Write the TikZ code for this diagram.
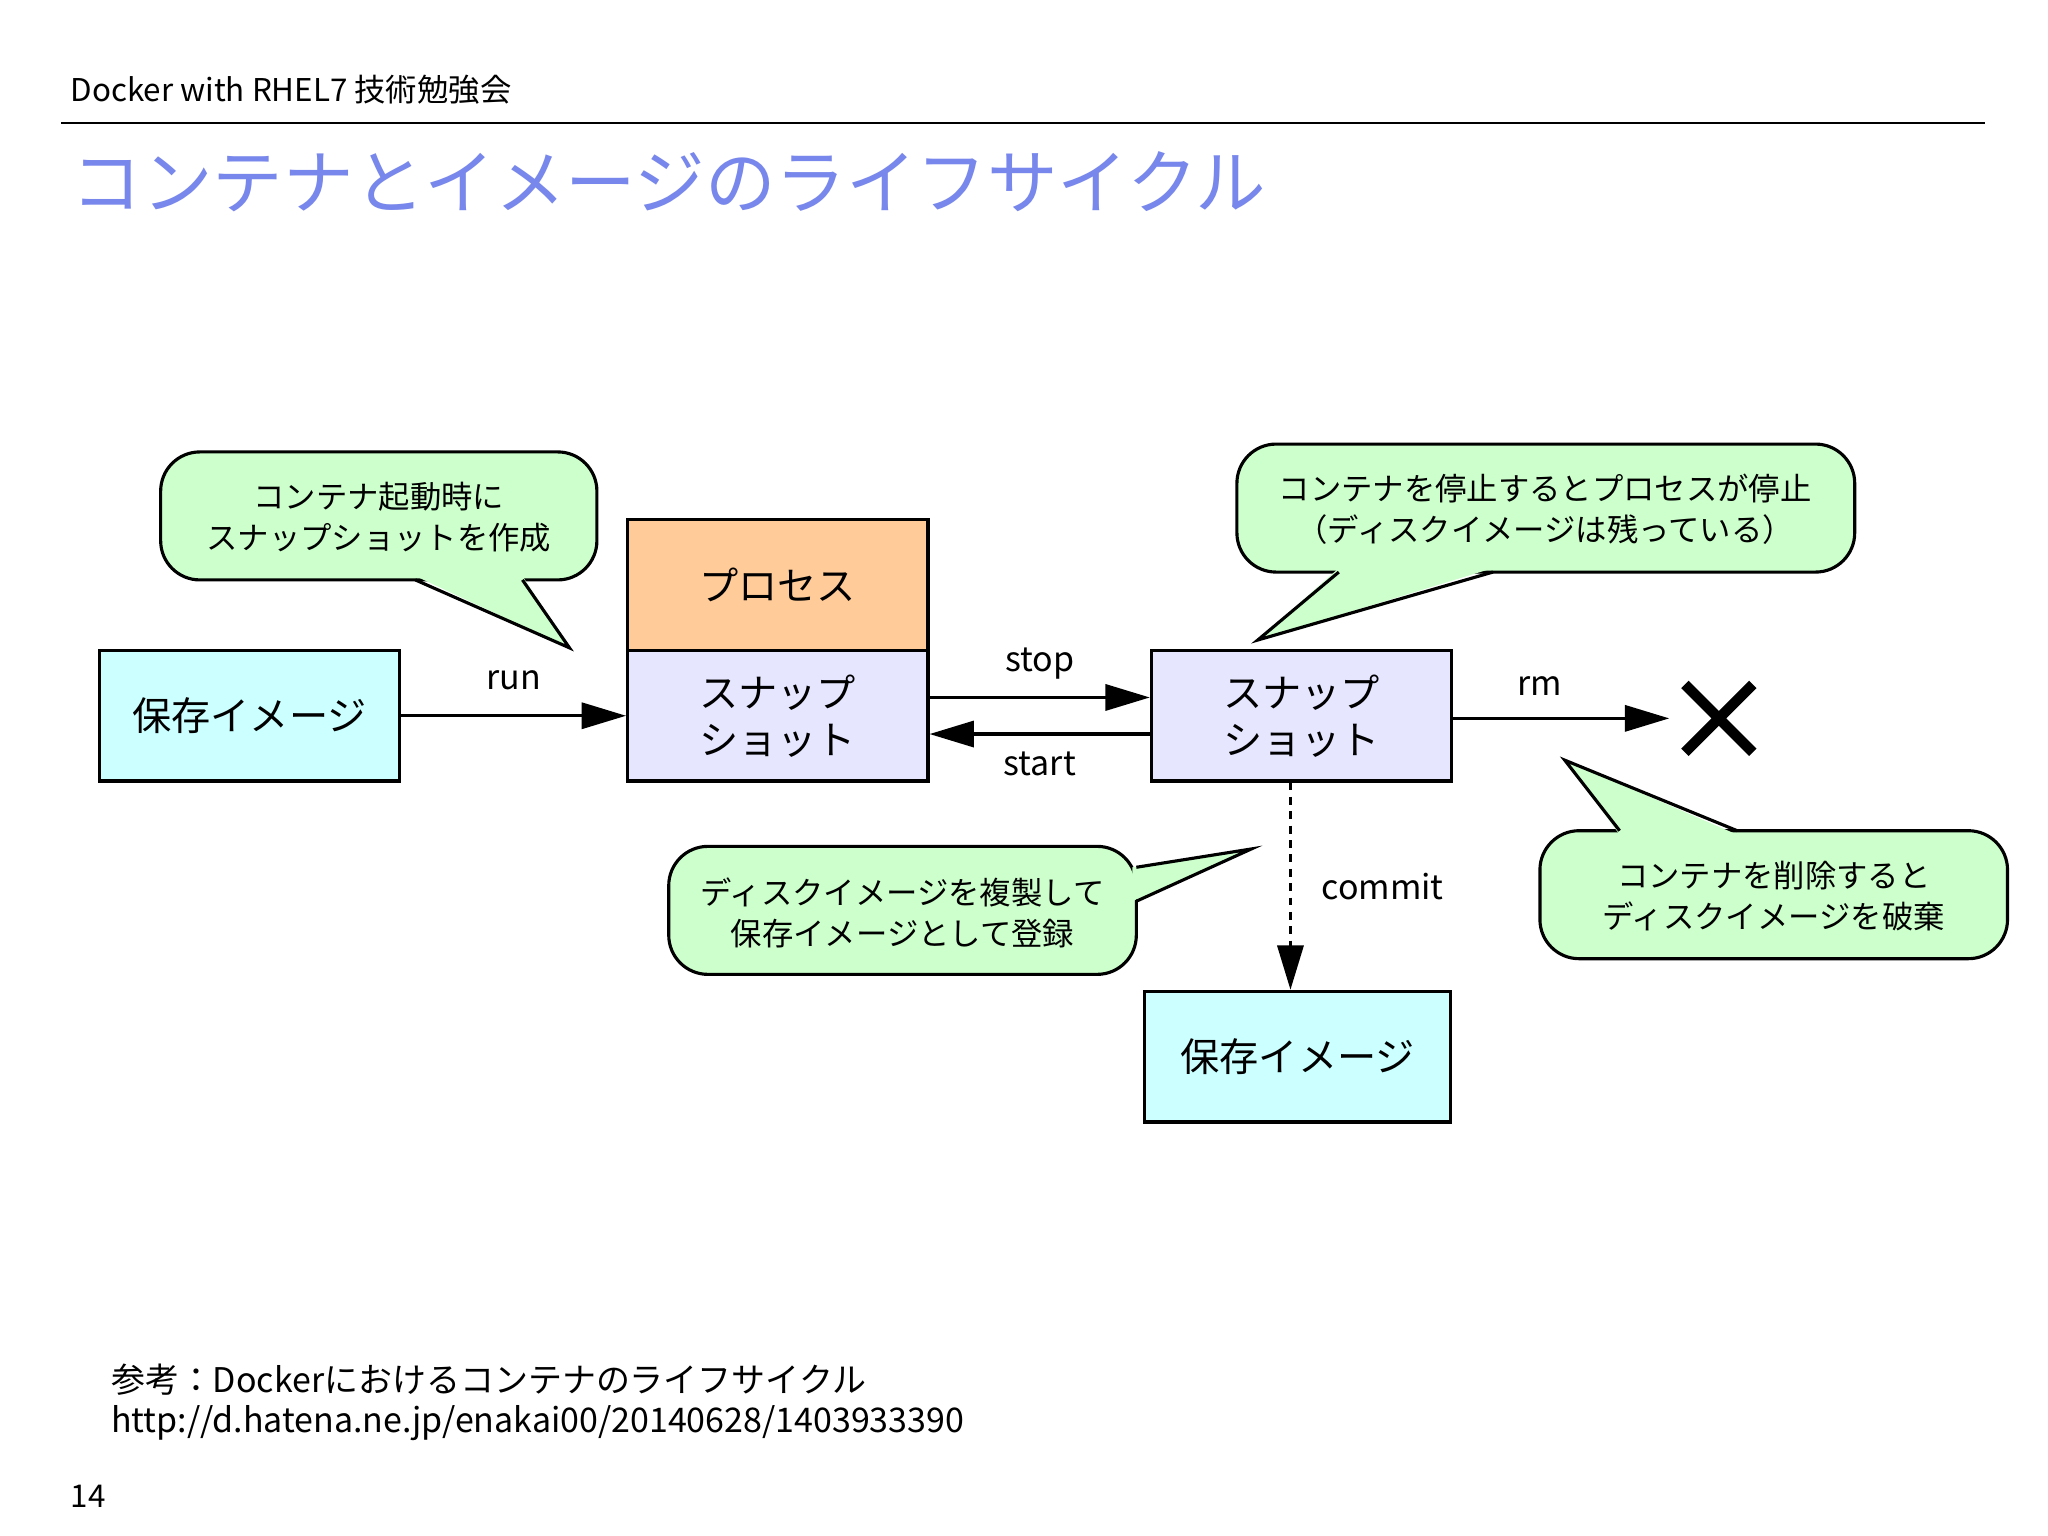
\documentclass[tikz,border=0pt]{standalone}
\usepackage{fontspec}
\setmainfont{Noto Sans CJK JP}
\usetikzlibrary{arrows.meta}
\definecolor{cimg}{RGB}{204,255,255}
\definecolor{cproc}{RGB}{255,204,153}
\definecolor{csnap}{RGB}{230,230,255}
\definecolor{ccall}{RGB}{204,255,204}
\definecolor{ctitle}{RGB}{120,135,235}
\tikzset{
 box/.style={draw=black,line width=1.2pt,minimum width=115pt,minimum height=50pt,inner sep=0pt,font=\fontsize{15}{19}\selectfont,align=center},
 arr/.style={line width=1.2pt,-{Triangle[length=17pt,width=10pt]}},
 lbl/.style={font=\fontsize{13}{15}\selectfont},
 call/.style={fill=ccall,draw=black,line width=1.2pt,rounded corners=15pt},
 ctext/.style={font=\fontsize{12}{15.5}\selectfont,align=center},
}
\begin{document}
\begin{tikzpicture}[x=0.5pt,y=-0.5pt]
\useasboundingbox[fill=white] (0,0) rectangle (1568,1176);
\node[anchor=base west,font=\fontsize{12}{14}\selectfont] (hdr) at (47,78) {Docker with RHEL7 技術勉強会};
\draw[line width=0.8pt] (47,94) coordinate (h1) -- (1520,94) coordinate (h2);
\node[anchor=base west,text=ctitle,font=\fontsize{27}{30}\selectfont] (title) at (48,160) {コンテナとイメージのライフサイクル};

\node[box,fill=cimg] (img1) at (191,548) {保存イメージ};
\node[box,fill=cproc] (proc) at (595.5,448) {プロセス};
\node[box,fill=csnap,font=\fontsize{15}{18}\selectfont] (snap1) at (595.5,548) {スナップ\\ショット};
\node[box,fill=csnap,font=\fontsize{15}{18}\selectfont] (snap2) at (996.5,548) {スナップ\\ショット};
\node[box,fill=cimg,minimum width=117pt] (img2) at (993.5,809) {保存イメージ};

\coordinate (xmark) at (1316,550);
\draw[line width=4pt] (1290,524) -- (1342,576) (1342,524) -- (1290,576);

\draw[arr] (img1.east) -- (snap1.west) node[lbl,midway,above=6pt] {run};
\draw[arr] ([yshift=7pt]snap1.east) -- ([yshift=7pt]snap2.west) node[lbl,midway,above=3pt] {stop};
\draw[arr] ([yshift=-7pt]snap2.west) -- ([yshift=-7pt]snap1.east) node[lbl,midway,below=3pt] {start};
\draw[arr] ([yshift=-1pt]snap2.east) -- (1278,550) node[lbl,pos=0.4,above=5pt] {rm};
\draw[arr,dash pattern=on 3pt off 2.5pt] (snap2.south -| 988,0) -- (img2.north -| 988,0) node[lbl,midway,right=8pt] {commit};

% callout 1
\draw[call] (123,346) rectangle (457,444);
\fill[ccall] (318,441) -- (436,496) -- (400,441) -- cycle;
\draw[line width=1.2pt] (318,444) -- (436,496) -- (400,444);
\node[ctext] (c1) at (290,396) {コンテナ起動時に\\スナップショットを作成};
% callout 2
\draw[call] (947,340) rectangle (1420,438);
\fill[ccall] (1025,435) -- (963,490) -- (1143,435) -- cycle;
\draw[line width=1.2pt] (1025,438) -- (963,490) -- (1143,438);
\node[ctext] (c2) at (1183,390) {コンテナを停止するとプロセスが停止\\（ディスクイメージは残っている）};
% callout 3
\draw[call] (512,648) rectangle (870,746);
\fill[ccall] (867,664) -- (958,650) -- (867,690) -- cycle;
\draw[line width=1.2pt] (870,664) -- (958,650) -- (870,690);
\node[ctext] (c3) at (691,699) {ディスクイメージを複製して\\保存イメージとして登録};
% callout 4
\draw[call] (1179,636) rectangle (1537,734);
\fill[ccall] (1240,639) -- (1198,582) -- (1330,639) -- cycle;
\draw[line width=1.2pt] (1240,636) -- (1198,582) -- (1330,636);
\node[ctext] (c4) at (1358,686) {コンテナを削除すると\\ディスクイメージを破棄};

\node[anchor=base west,font=\fontsize{13}{15}\selectfont] (ref1) at (78,1066) {参考：Dockerにおけるコンテナのライフサイクル};
\node[anchor=base west,font=\fontsize{13}{15}\selectfont] (ref2) at (78,1097) {http://d.hatena.ne.jp/enakai00/20140628/1403933390};
\node[anchor=base west,font=\fontsize{12}{14}\selectfont] (pg) at (47,1154) {14};
\end{tikzpicture}
\end{document}
